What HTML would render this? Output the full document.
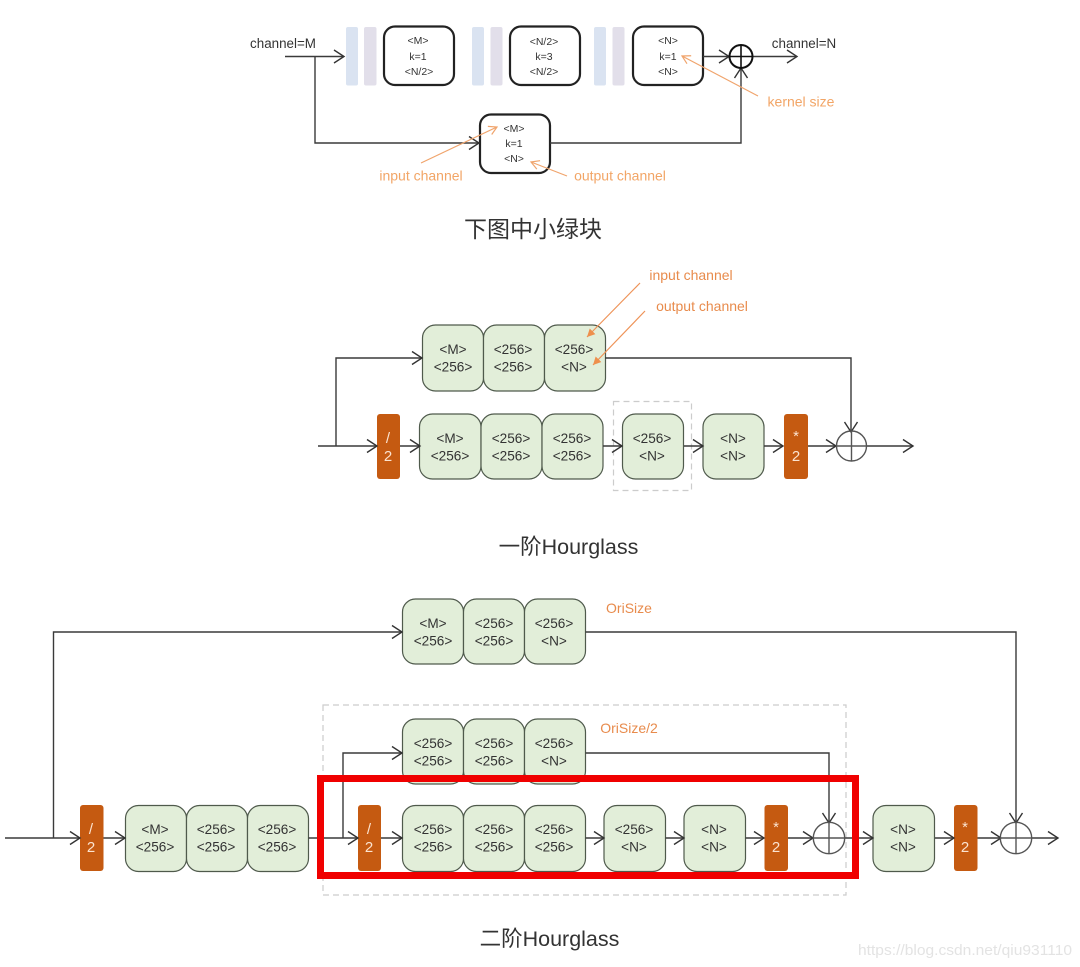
<!DOCTYPE html>
<html>
<head>
<meta charset="utf-8">
<style>
html,body{margin:0;padding:0;background:#fff;}
svg{display:block;}
text{font-family:"Liberation Sans","Noto Sans CJK SC",sans-serif;text-anchor:middle;}
.b{fill:#e2eed9;stroke:#4f5a4c;stroke-width:1.2;}
.o{fill:#c55a11;}
.w{fill:#fff;stroke:#222;stroke-width:2.2;}
.t{font-size:13.6px;fill:#333;}
.s{font-size:10.5px;fill:#333;}
.ow{font-size:15px;fill:#fbe3d0;}
.l{fill:none;stroke:#3a3a3a;stroke-width:1.4;}
.c{fill:none;stroke:#555;stroke-width:1.4;}
.d{fill:none;stroke:#ccc;stroke-width:1.2;stroke-dasharray:6 4;}
.ol{fill:none;stroke:#f0a46c;stroke-width:1.2;}
.lab{font-size:14px;fill:#f2a566;}
.lab2{font-size:14px;fill:#e88b4c;}
.cap{fill:#333;}
</style>
</head>
<body>
<svg width="1080" height="967" viewBox="0 0 1080 967" xmlns="http://www.w3.org/2000/svg">
<defs>
<marker id="a" markerUnits="userSpaceOnUse" markerWidth="14" markerHeight="16" refX="12" refY="8" orient="auto"><path d="M2 1.5L12 8L2 14.5" fill="none" stroke="#333" stroke-width="1.4"/></marker>
<marker id="oa" markerUnits="userSpaceOnUse" markerWidth="10" markerHeight="10" refX="8" refY="5" orient="auto"><path d="M0 1L8 5L0 9Z" fill="#ee8f4c"/></marker>
<marker id="ob" markerUnits="userSpaceOnUse" markerWidth="12" markerHeight="12" refX="10" refY="6" orient="auto"><path d="M2 1.5L10 6L2 10.5" fill="none" stroke="#f0a46c" stroke-width="1.2"/></marker>
</defs>

<!-- Section 1 -->
<rect x="346" y="27" width="12" height="58.5" rx="2" fill="#dae3f1"/>
<rect x="364" y="27" width="12.5" height="58.5" rx="2" fill="#e2dfea"/>
<rect x="472" y="27" width="12" height="58.5" rx="2" fill="#dae3f1"/>
<rect x="490.5" y="27" width="12" height="58.5" rx="2" fill="#e2dfea"/>
<rect x="594" y="27" width="12" height="58.5" rx="2" fill="#dae3f1"/>
<rect x="612.500" y="27" width="12" height="58.5" rx="2" fill="#e2dfea"/>
<rect class="w" x="384" y="26.500" width="70" height="58.500" rx="11"/>
<rect class="w" x="510" y="26.500" width="70" height="58.500" rx="11"/>
<rect class="w" x="633" y="26.500" width="70" height="58.500" rx="11"/>
<rect class="w" x="480" y="114.500" width="70" height="58.500" rx="11"/>
<text class="s" x="418" y="44">&lt;M&gt;</text><text class="s" x="418" y="60">k=1</text><text class="s" x="419" y="75">&lt;N/2&gt;</text>
<text class="s" x="544" y="45">&lt;N/2&gt;</text><text class="s" x="544" y="60">k=3</text><text class="s" x="544" y="75">&lt;N/2&gt;</text>
<text class="s" x="668" y="44">&lt;N&gt;</text><text class="s" x="668" y="60">k=1</text><text class="s" x="668" y="75">&lt;N&gt;</text>
<text class="s" x="514" y="132">&lt;M&gt;</text><text class="s" x="514" y="147">k=1</text><text class="s" x="514" y="162">&lt;N&gt;</text>
<path class="l" d="M285 56.500H344" marker-end="url(#a)"/>
<path class="l" d="M315 56.500V143H479" marker-end="url(#a)"/>
<path class="l" d="M550 143H741V68" marker-end="url(#a)"/>
<path class="l" d="M703 56.500H729" marker-end="url(#a)"/>
<path class="l" d="M753 56.500H797" marker-end="url(#a)"/>
<circle cx="741" cy="56.500" r="11.500" fill="none" stroke="#111" stroke-width="2"/>
<path d="M741 45V68M729.500 56.500H752.500" stroke="#111" stroke-width="1.6" fill="none"/>
<text x="283" y="48" font-size="13.400" fill="#333">channel=M</text>
<text x="804" y="48" font-size="13.400" fill="#333">channel=N</text>
<path class="ol" d="M758 96L682 56" marker-end="url(#ob)"/>
<path class="ol" d="M421 163L497 127" marker-end="url(#ob)"/>
<path class="ol" d="M567 176L531 162" marker-end="url(#ob)"/>
<text class="lab" x="801" y="106.500" font-size="13">kernel size</text>
<text class="lab" x="421" y="180.500">input channel</text>
<text class="lab" x="620" y="180.500">output channel</text>
<text class="cap" x="533" y="237" font-size="23">下图中小绿块</text>

<!-- Section 2 -->
<rect class="b" x="422.500" y="325" width="61" height="66" rx="13"/>
<rect class="b" x="483.500" y="325" width="61" height="66" rx="13"/>
<rect class="b" x="544.500" y="325" width="61" height="66" rx="13"/>
<text class="t" x="453" y="354">&lt;M&gt;</text><text class="t" x="453" y="371.500">&lt;256&gt;</text>
<text class="t" x="513" y="354">&lt;256&gt;</text><text class="t" x="513" y="371.500">&lt;256&gt;</text>
<text class="t" x="574" y="354">&lt;256&gt;</text><text class="t" x="574" y="371.500">&lt;N&gt;</text>
<rect class="d" x="613.500" y="401.500" width="78" height="89"/>
<rect class="b" x="419.500" y="414" width="61.500" height="65" rx="13"/>
<rect class="b" x="481" y="414" width="61" height="65" rx="13"/>
<rect class="b" x="542" y="414" width="61" height="65" rx="13"/>
<rect class="b" x="622.500" y="414" width="61" height="65" rx="13"/>
<rect class="b" x="703" y="414" width="61" height="65" rx="13"/>
<text class="t" x="450" y="443">&lt;M&gt;</text><text class="t" x="450" y="460.500">&lt;256&gt;</text>
<text class="t" x="511" y="443">&lt;256&gt;</text><text class="t" x="511" y="460.500">&lt;256&gt;</text>
<text class="t" x="572" y="443">&lt;256&gt;</text><text class="t" x="572" y="460.500">&lt;256&gt;</text>
<text class="t" x="652" y="443">&lt;256&gt;</text><text class="t" x="652" y="460.500">&lt;N&gt;</text>
<text class="t" x="733" y="443">&lt;N&gt;</text><text class="t" x="733" y="460.500">&lt;N&gt;</text>
<rect class="o" x="377" y="414" width="23" height="65" rx="3"/>
<rect class="o" x="784" y="414" width="24" height="65" rx="3"/>
<text class="ow" x="388" y="443">/</text><text class="ow" x="388" y="461">2</text>
<text class="ow" x="796" y="441">*</text><text class="ow" x="796" y="461">2</text>
<path class="l" d="M318 446H377" marker-end="url(#a)"/>
<path class="l" d="M336 446V358H422" marker-end="url(#a)"/>
<path class="l" d="M605 358H851V432" marker-end="url(#a)"/>
<path class="l" d="M400 446H420" marker-end="url(#a)"/>
<path class="l" d="M603 446H622" marker-end="url(#a)"/>
<path class="l" d="M684 446H703" marker-end="url(#a)"/>
<path class="l" d="M764 446H783" marker-end="url(#a)"/>
<path class="l" d="M808 446H836" marker-end="url(#a)"/>
<path class="l" d="M867 446H913" marker-end="url(#a)"/>
<circle class="c" cx="851.500" cy="446" r="15"/>
<path class="c" d="M851.500 431V461M836.500 446H866.500"/>
<path fill="none" stroke="#ee9358" stroke-width="1.2" d="M640 283L587 337" marker-end="url(#oa)"/>
<path fill="none" stroke="#ee9358" stroke-width="1.2" d="M645 311L593 365" marker-end="url(#oa)"/>
<text class="lab2" x="691" y="280">input channel</text>
<text class="lab2" x="702" y="311">output channel</text>
<text class="cap" x="568.500" y="554" font-size="21.500">一阶Hourglass</text>

<!-- Section 3 -->
<rect class="d" x="323" y="705" width="523" height="190"/>
<rect class="b" x="402.500" y="599" width="61" height="65" rx="13"/>
<rect class="b" x="463.500" y="599" width="61" height="65" rx="13"/>
<rect class="b" x="524.500" y="599" width="61" height="65" rx="13"/>
<text class="t" x="433" y="628">&lt;M&gt;</text><text class="t" x="433" y="645.500">&lt;256&gt;</text>
<text class="t" x="494" y="628">&lt;256&gt;</text><text class="t" x="494" y="645.500">&lt;256&gt;</text>
<text class="t" x="554" y="628">&lt;256&gt;</text><text class="t" x="554" y="645.500">&lt;N&gt;</text>
<rect class="b" x="402.500" y="719" width="61" height="65" rx="13"/>
<rect class="b" x="463.500" y="719" width="61" height="65" rx="13"/>
<rect class="b" x="524.500" y="719" width="61" height="65" rx="13"/>
<text class="t" x="433" y="748">&lt;256&gt;</text><text class="t" x="433" y="765.500">&lt;256&gt;</text>
<text class="t" x="494" y="748">&lt;256&gt;</text><text class="t" x="494" y="765.500">&lt;256&gt;</text>
<text class="t" x="554" y="748">&lt;256&gt;</text><text class="t" x="554" y="765.500">&lt;N&gt;</text>
<rect class="b" x="125.500" y="805.500" width="61" height="66" rx="13"/>
<rect class="b" x="186.500" y="805.500" width="61" height="66" rx="13"/>
<rect class="b" x="247.500" y="805.500" width="61" height="66" rx="13"/>
<text class="t" x="155" y="834">&lt;M&gt;</text><text class="t" x="155" y="851.500">&lt;256&gt;</text>
<text class="t" x="216" y="834">&lt;256&gt;</text><text class="t" x="216" y="851.500">&lt;256&gt;</text>
<text class="t" x="277" y="834">&lt;256&gt;</text><text class="t" x="277" y="851.500">&lt;256&gt;</text>
<rect class="b" x="402.500" y="805.500" width="61" height="66" rx="13"/>
<rect class="b" x="463.500" y="805.500" width="61" height="66" rx="13"/>
<rect class="b" x="524.500" y="805.500" width="61" height="66" rx="13"/>
<rect class="b" x="604" y="805.500" width="61.500" height="66" rx="13"/>
<rect class="b" x="684" y="805.500" width="61.500" height="66" rx="13"/>
<rect class="b" x="873" y="805.500" width="61.500" height="66" rx="13"/>
<text class="t" x="433" y="834">&lt;256&gt;</text><text class="t" x="433" y="851.500">&lt;256&gt;</text>
<text class="t" x="494" y="834">&lt;256&gt;</text><text class="t" x="494" y="851.500">&lt;256&gt;</text>
<text class="t" x="554" y="834">&lt;256&gt;</text><text class="t" x="554" y="851.500">&lt;256&gt;</text>
<text class="t" x="634" y="834">&lt;256&gt;</text><text class="t" x="634" y="851.500">&lt;N&gt;</text>
<text class="t" x="714" y="834">&lt;N&gt;</text><text class="t" x="714" y="851.500">&lt;N&gt;</text>
<text class="t" x="903" y="834">&lt;N&gt;</text><text class="t" x="903" y="851.500">&lt;N&gt;</text>
<rect class="o" x="80" y="805" width="23.500" height="66" rx="3"/>
<rect class="o" x="358" y="805" width="23" height="66" rx="3"/>
<rect class="o" x="764.500" y="805" width="23.500" height="66" rx="3"/>
<rect class="o" x="954" y="805" width="23.500" height="66" rx="3"/>
<text class="ow" x="91" y="834">/</text><text class="ow" x="91" y="852">2</text>
<text class="ow" x="369" y="834">/</text><text class="ow" x="369" y="852">2</text>
<text class="ow" x="776" y="832">*</text><text class="ow" x="776" y="852">2</text>
<text class="ow" x="965" y="832">*</text><text class="ow" x="965" y="852">2</text>
<path class="l" d="M5 838H80" marker-end="url(#a)"/>
<path class="l" d="M53.500 838V632H402" marker-end="url(#a)"/>
<path class="l" d="M103.500 838H125" marker-end="url(#a)"/>
<path class="l" d="M308.500 838H358" marker-end="url(#a)"/>
<path class="l" d="M343 838V753H402" marker-end="url(#a)"/>
<path class="l" d="M381 838H402" marker-end="url(#a)"/>
<path class="l" d="M585.500 838H604" marker-end="url(#a)"/>
<path class="l" d="M665.500 838H684" marker-end="url(#a)"/>
<path class="l" d="M745.500 838H764" marker-end="url(#a)"/>
<path class="l" d="M788 838H813" marker-end="url(#a)"/>
<path class="l" d="M845 838H873" marker-end="url(#a)"/>
<path class="l" d="M935 838H954" marker-end="url(#a)"/>
<path class="l" d="M977.500 838H1001" marker-end="url(#a)"/>
<path class="l" d="M1031 838H1058" marker-end="url(#a)"/>
<path class="l" d="M585.500 753H829V823" marker-end="url(#a)"/>
<path class="l" d="M585.500 632H1016V823" marker-end="url(#a)"/>
<circle class="c" cx="829" cy="838" r="15.700"/>
<path class="c" d="M829 822V854M813 838H845" stroke="#333"/>
<circle class="c" cx="1016" cy="838" r="15.700"/>
<path class="c" d="M1016 822V854M1000 838H1032" stroke="#333"/>
<rect x="320.500" y="778.500" width="535" height="97" fill="none" stroke="#f00000" stroke-width="7"/>
<text class="lab2" x="629" y="613">OriSize</text>
<text class="lab2" x="629" y="733">OriSize/2</text>
<text class="cap" x="549.500" y="946" font-size="21.500">二阶Hourglass</text>
<text x="965" y="955" font-size="15" fill="#e3e3e3" textLength="214" lengthAdjust="spacingAndGlyphs">https://blog.csdn.net/qiu931110</text>
</svg>
</body>
</html>
